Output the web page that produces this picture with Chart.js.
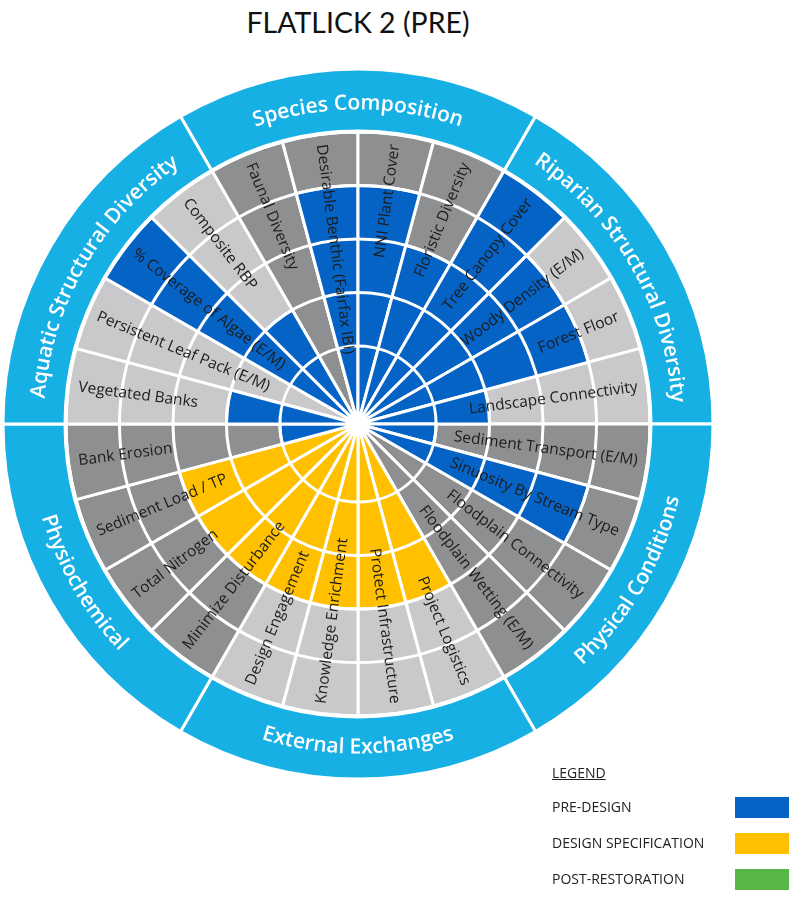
<!DOCTYPE html>
<html>
<head>
<meta charset="utf-8">
<title>FLATLICK 2 (PRE)</title>
<script src="https://cdn.jsdelivr.net/npm/chart.js@4.4.1/dist/chart.umd.min.js"></script>
<style>
  html, body { margin: 0; padding: 0; background: #fff; }
  body { position: relative; width: 800px; height: 900px; overflow: hidden; }
  #title { position: absolute; left: 0; top: 5px; width: 716px; text-align: center;
           font: 400 28.5px Lato, sans-serif; color: #111; }
  #ringBox { position: absolute; left: -2px; top: 64px; }
  #wheelBox { position: absolute; left: 58px; top: 124px; }
  #legend { position: absolute; left: 552px; top: 762px; width: 238px;
            font: 400 14px "Open Sans", sans-serif; color: #222; }
  #legend .head { position: absolute; top: 0; left: 0; line-height: 22px; text-decoration: underline; }
  #legend .row { position: absolute; left: 0; width: 238px; height: 22px; line-height: 22px; }
  #legend .row i { position: absolute; left: 183px; top: 1px; width: 54px; height: 21px; }
</style>
</head>
<body>
<div id="title">FLATLICK 2 (PRE)</div>
<div id="ringBox"><canvas id="ring" width="720" height="720"></canvas></div>
<div id="wheelBox"><canvas id="wheel" width="600" height="600"></canvas></div>
<div id="legend"><div class="head">LEGEND</div></div>
<script>
// metrics, clockwise from the top-left edge of "Species Composition"
const metrics = [
  'Faunal Diversity', 'Desirable Benthic (Fairfax IBI)', 'NNI Plant Cover', 'Floristic Diversity',
  'Tree Canopy Cover', 'Woody Density (E/M)', 'Forest Floor', 'Landscape Connectivity',
  'Sediment Transport (E/M)', 'Sinuosity By Stream Type', 'Floodplain Connectivity', 'Floodplain Wetting (E/M)',
  'Project Logistics', 'Protect Infrastructure', 'Knowledge Enrichment', 'Design Engagement',
  'Minimize Disturbance', 'Total Nitrogen', 'Sediment Load / TP', 'Bank Erosion',
  'Vegetated Banks', 'Persistent Leaf Pack (E/M)', '% Coverage of Algae (E/M)', 'Composite RBP'
];
const categories = ['Species Composition', 'Riparian Structural Diversity', 'Physical Conditions',
  'External Exchanges', 'Physiochemical', 'Aquatic Structural Diversity'];
const metricsPerCategory = [4, 4, 4, 4, 4, 4];

// scores 0-5
const preDesign       = [0, 4, 4, 3, 5, 4, 4, 2, 1, 4, 0, 0, 0, 0, 0, 0, 0, 0, 0, 1, 2, 0, 5, 2];
const designSpec      = [0, 0, 0, 0, 0, 0, 0, 0, 0, 0, 0, 0, 3, 3, 3, 3, 3, 3, 3, 0, 0, 0, 0, 0];
const postRestoration = [0, 0, 0, 0, 0, 0, 0, 0, 0, 0, 0, 0, 0, 0, 0, 0, 0, 0, 0, 0, 0, 0, 0, 0];
const maxScore = 5;

const BLUE = '#0563c6', YELLOW = '#ffc000', GREEN = '#58b747', RING = '#17b0e4';
const DARK = '#8e8f91', LIGHT = '#c9c9cb';
const categoryShade = [DARK, LIGHT, DARK, LIGHT, DARK, LIGHT];

Chart.defaults.font.family = "'Open Sans', sans-serif";

// legend
const legendItems = [['PRE-DESIGN', BLUE], ['DESIGN SPECIFICATION', YELLOW], ['POST-RESTORATION', GREEN]];
legendItems.forEach(([txt, col], k) => {
  const row = document.createElement('div');
  row.className = 'row';
  row.style.top = (34 + k * 36) + 'px';
  row.innerHTML = '<span>' + txt + '</span><i style="background:' + col + '"></i>';
  document.getElementById('legend').appendChild(row);
});

// white rings on top of the wedges + metric labels
const wheelPlugin = {
  id: 'wheelRings',
  afterDatasetsDraw(chart) {
    const s = chart.scales.r, ctx = chart.ctx;
    ctx.save();
    ctx.strokeStyle = '#fff';
    ctx.lineWidth = 3;
    for (let v = 1; v <= maxScore; v++) {
      ctx.beginPath();
      ctx.arc(s.xCenter, s.yCenter, s.getDistanceFromCenterForValue(v), 0, Math.PI * 2);
      ctx.stroke();
    }
    ctx.font = '15.5px "Open Sans"';
    ctx.fillStyle = '#1c1c1c';
    ctx.textBaseline = 'middle';
    const meta = chart.getDatasetMeta(3);
    meta.data.forEach((arc, i) => {
      const mid = (arc.startAngle + arc.endAngle) / 2;
      const r = arc.outerRadius - 10;
      ctx.save();
      ctx.translate(arc.x + r * Math.cos(mid), arc.y + r * Math.sin(mid));
      if (Math.cos(mid) > 0) {
        ctx.rotate(mid);
        ctx.textAlign = 'right';
      } else {
        ctx.rotate(mid + Math.PI);
        ctx.textAlign = 'left';
      }
      ctx.fillText(metrics[i], 0, 0);
      ctx.restore();
    });
    ctx.restore();
  }
};

function series(label, data, color) {
  return {
    label: label,
    data: data,
    backgroundColor: c => c.raw > 0 ? color : 'transparent',
    borderColor: '#fff',
    borderWidth: c => c.raw > 0 ? 3 : 0
  };
}

new Chart(document.getElementById('wheel'), {
  type: 'polarArea',
  data: {
    labels: metrics,
    datasets: [
      series('PRE-DESIGN', preDesign, BLUE),
      series('DESIGN SPECIFICATION', designSpec, YELLOW),
      series('POST-RESTORATION', postRestoration, GREEN),
      {
        label: 'background',
        data: metrics.map(() => maxScore),
        backgroundColor: metrics.map((m, i) => categoryShade[Math.floor(i / 4)]),
        borderColor: '#fff',
        borderWidth: 3
      }
    ]
  },
  options: {
    responsive: false,
    animation: false,
    layout: { padding: 8 },
    plugins: { legend: { display: false }, tooltip: { enabled: false } },
    scales: {
      r: {
        min: -0.46,
        max: maxScore,
        startAngle: -30,
        ticks: { display: false },
        grid: { display: false },
        angleLines: { display: false },
        pointLabels: { display: false }
      }
    }
  },
  plugins: [wheelPlugin]
});

// curved category names on the outer ring
const ringPlugin = {
  id: 'ringLabels',
  afterDatasetsDraw(chart) {
    const ctx = chart.ctx;
    const meta = chart.getDatasetMeta(0);
    ctx.save();
    ctx.font = '600 21px "Open Sans"';
    ctx.fillStyle = '#fff';
    ctx.textAlign = 'center';
    ctx.textBaseline = 'alphabetic';
    meta.data.forEach((arc, i) => {
      const text = categories[i];
      const mid = (arc.startAngle + arc.endAngle) / 2;
      const cw = Math.sin(mid) < 0;
      const midR = (arc.innerRadius + arc.outerRadius) / 2 - 2;
      const r = cw ? midR - 7.5 : midR + 7.5;
      const dir = cw ? 1 : -1;
      const total = ctx.measureText(text).width;
      let a = mid - dir * total / (2 * r);
      for (const ch of text) {
        const w = ctx.measureText(ch).width;
        const ac = a + dir * (w / 2) / r;
        ctx.save();
        ctx.translate(arc.x + r * Math.cos(ac), arc.y + r * Math.sin(ac));
        ctx.rotate(cw ? ac + Math.PI / 2 : ac - Math.PI / 2);
        ctx.fillText(ch, 0, 0);
        ctx.restore();
        a += dir * w / r;
      }
    });
    ctx.restore();
  }
};

new Chart(document.getElementById('ring'), {
  type: 'doughnut',
  data: {
    labels: categories,
    datasets: [{
      data: metricsPerCategory,
      backgroundColor: RING,
      borderColor: '#fff',
      borderWidth: 3
    }]
  },
  options: {
    responsive: false,
    animation: false,
    rotation: -30,
    radius: 355,
    cutout: (293 / 355 * 100) + '%',
    layout: { padding: 5 },
    plugins: { legend: { display: false }, tooltip: { enabled: false } }
  },
  plugins: [ringPlugin]
});
</script>
</body>
</html>
